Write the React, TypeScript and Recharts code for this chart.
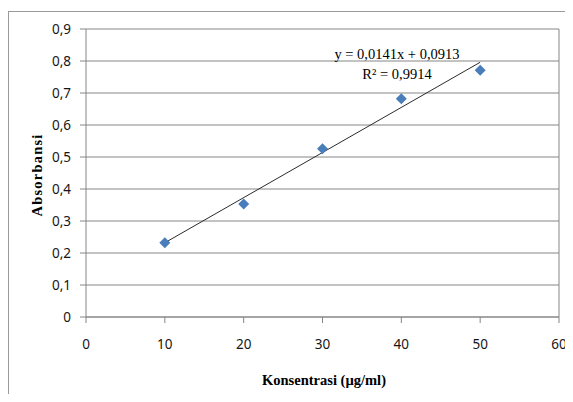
import React from "react";
import { ScatterChart, Scatter, XAxis, YAxis, CartesianGrid, ReferenceLine } from "recharts";

// measured data (Konsentrasi µg/ml vs Absorbansi)
const concentrations = [10, 20, 30, 40, 50];
const absorbances = [0.232, 0.353, 0.526, 0.682, 0.771];

// linear trendline end points
const trendX = [10, 50];
const trendY = [0.232, 0.796];

const xTicks = [0, 10, 20, 30, 40, 50, 60];
const yTicks = [0, 0.1, 0.2, 0.3, 0.4, 0.5, 0.6, 0.7, 0.8, 0.9];

const points = concentrations.map((x, i) => ({ x, y: absorbances[i] }));
const trend = trendX.map((x, i) => ({ x, y: trendY[i] }));

const GRID = "#868686";
const tickStyle = { fill: "#161616", fontSize: 13.5, fontFamily: "'Noto Sans', sans-serif" };

const fmt = (v: number) => (v === 0 ? "0" : v.toFixed(1).replace(".", ","));

const Diamond = (props: any) => {
  const { cx, cy } = props;
  const r = 5.5;
  return (
    <polygon
      points={`${cx},${cy - r} ${cx + r},${cy} ${cx},${cy + r} ${cx - r},${cy}`}
      fill="#4A7EBB"
    />
  );
};

const Empty = () => <g />;

export default function App() {
  return (
    <div style={{ position: "relative", width: 565, height: 386, overflow: "hidden" }}>
      <div
        style={{
          position: "absolute",
          left: 0,
          top: 3,
          width: 565,
          height: 383,
          borderLeft: "1px solid #9a9a9a",
          borderTop: "1px solid #9a9a9a",
        }}
      />
      <ScatterChart
        width={565}
        height={386}
        margin={{ top: 21, right: 14, left: 38, bottom: 47 }}
        style={{ position: "absolute", left: 0, top: 0 }}
      >
        <CartesianGrid vertical={false} stroke={GRID} />
        <XAxis
          type="number"
          dataKey="x"
          domain={[0, 60]}
          ticks={xTicks}
          height={30}
          tickSize={6}
          tickMargin={16}
          stroke={GRID}
          tick={tickStyle}
          interval={0}
        />
        <YAxis
          type="number"
          dataKey="y"
          domain={[0, 0.9]}
          ticks={yTicks}
          width={40}
          tickSize={6}
          tickMargin={9}
          stroke={GRID}
          tick={tickStyle}
          tickFormatter={fmt}
          interval={0}
        />
        <ReferenceLine x={60} stroke={GRID} />
        <Scatter
          data={trend}
          line={{ stroke: "#2b2b2b", strokeWidth: 1 }}
          shape={Empty}
          isAnimationActive={false}
        />
        <Scatter data={points} shape={Diamond} isAnimationActive={false} />
      </ScatterChart>
      <svg
        width={565}
        height={386}
        style={{ position: "absolute", left: 0, top: 0, pointerEvents: "none" }}
      >
        <g fontFamily="'Liberation Serif', serif" fill="#000">
          <text x={389} y={51} fontSize={14.5} textAnchor="middle">
            y = 0,0141x + 0,0913
          </text>
          <text x={389} y={71} fontSize={14.5} textAnchor="middle">
            R² = 0,9914
          </text>
          <text
            x={316}
            y={377}
            fontSize={14.5}
            fontWeight="bold"
            textAnchor="middle"
          >
            Konsentrasi (µg/ml)
          </text>
          <text
            transform="translate(34,167) rotate(-90)"
            fontSize={14.5}
            fontWeight="bold"
            letterSpacing={1.2}
            textAnchor="middle"
          >
            Absorbansi
          </text>
        </g>
      </svg>
    </div>
  );
}
